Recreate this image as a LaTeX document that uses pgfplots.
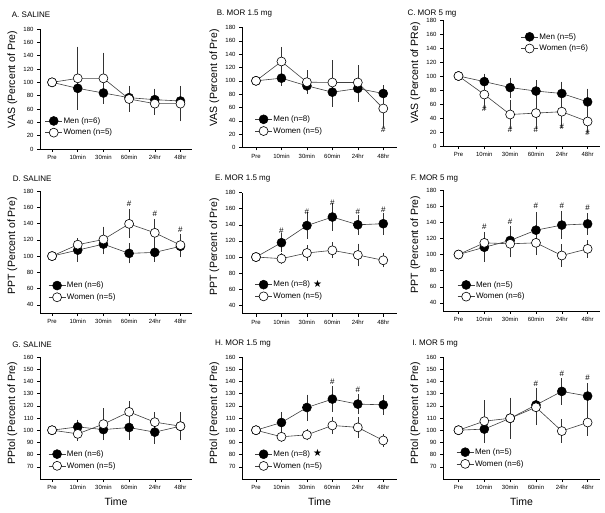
\documentclass[border=0pt]{standalone}
\usepackage{fontspec}
\setmainfont{Liberation Sans}
\newfontfamily\symfont{DejaVu Sans}
\usepackage{pgfplots}
\pgfplotsset{compat=1.18}

\pgfplotsset{
  panel/.style={
    scale only axis, axis lines*=left, axis line style={-, line width=0.6pt, black},
    xtick={0,...,5}, xticklabels={Pre,10min,30min,60min,24hr,48hr},
    tick align=outside, major tick length=3pt, tick style={black, line width=0.5pt},
    ticklabel style={font=\fontsize{6}{7}\selectfont},
    /pgf/number format/assume math mode=true,
    label style={font=\fontsize{10.5}{12}\selectfont},
    clip=false,
    legend style={draw=none, fill=none, font=\fontsize{8}{9}\selectfont, inner sep=0pt,
      nodes={inner sep=1pt, text height=6pt, text depth=1.5pt}, row sep=2.2pt, anchor=west},
    legend cell align=left,
  },
  col1/.style={width=152pt, xmin=-0.47, xmax=5.45},
  col2/.style={width=155pt, xmin=-0.55, xmax=5.54},
  col3/.style={width=157pt, xmin=-0.6, xmax=5.48},
  row1/.style={height=120pt, ymin=0, ymax=180, ytick={0,20,...,180},
    ylabel style={at={(axis description cs:0,0.58)}, rotate=0, anchor=center, yshift=27.5pt}},
  row2/.style={height=122pt, ymin=30, ymax=180, ytick={40,60,...,180},
    ylabel style={at={(axis description cs:0,0.55)}, rotate=0, anchor=center, yshift=27.5pt}},
  row3/.style={height=122pt, ymin=60, ymax=160, ytick={70,80,...,160},
    ylabel style={at={(axis description cs:0,0.54)}, rotate=0, anchor=center, yshift=27.5pt},
    xlabel={Time}, xlabel style={at={(axis description cs:0.5,0)}, yshift=-23pt, anchor=center}},
  men/.style={black!75, line width=0.6pt, mark=*, mark size=4.5pt,
    mark options={fill=black, draw=black, line width=0.5pt},
    error bars/.cd, y dir=both, y explicit,
    error bar style={black!80, line width=0.6pt},
    error mark options={black!80, mark size=3pt, line width=0.6pt}},
  women/.style={black!75, line width=0.6pt, mark=*, mark size=4.5pt,
    mark options={fill=white, draw=black, line width=0.6pt},
    error bars/.cd, y dir=both, y explicit,
    error bar style={black!80, line width=0.6pt},
    error mark options={black!80, mark size=3pt, line width=0.6pt}},
}
\newcommand{\hashnode}[2]{\node[font=\fontsize{8}{9}\selectfont, inner sep=0pt] at (axis cs:#1,#2) {\#};}
\newcommand{\ttl}[3]{\node[anchor=west, inner sep=0pt, font=\fontsize{8}{9}\selectfont] at (#1pt,#2pt) {#3};}

\begin{document}
\begin{tikzpicture}
\useasboundingbox (0pt,0pt) rectangle (605pt,512pt);

% ---------------- Row 1 ----------------
\begin{axis}[panel, col1, row1, at={(40pt,363pt)}, anchor=south west,
  ylabel={VAS (Percent of Pre)},
  legend style={at={(axis description cs:0.031,0.185)}}]
\addplot[men] coordinates {(0,100) +- (0,0) (1,91) +- (0,28) (2,84) +- (0,12) (3,77) +- (0,13) (4,74) +- (0,12) (5,72) +- (0,17)};
\addplot[women] coordinates {(0,100) +- (0,0) (1,106) +- (0,43) (2,106) +- (0,34) (3,75) +- (0,15) (4,68) +- (0,12) (5,68) +- (0,22)};
\legend{Men (n=6), Women (n=5)}
\end{axis}

\begin{axis}[panel, col2, row1, at={(242pt,364.5pt)}, anchor=south west,
  ylabel={VAS (Percent of Pre)},
  legend style={at={(axis description cs:0.081,0.186)}}]
\addplot[men] coordinates {(0,100) +- (0,0) (1,104) +- (0,7) (2,92.5) +- (0,7.5) (3,83) +- (0,17.5) (4,88.5) +- (0,15.5) (5,81) +- (0,8)};
\addplot[women] coordinates {(0,100) +- (0,0) (1,129) +- (0,17.5) (2,98) +- (0,13) (3,97.5) +- (0,29) (4,97.5) +- (0,21.5) (5,58.5) +- (0,24.5)};
\legend{Men (n=8), Women (n=5)}
\hashnode{5}{26}
\end{axis}

\begin{axis}[panel, col3, row1, height=126pt, at={(443pt,366pt)}, anchor=south west,
  ylabel={VAS (Percent of PRe)},
  legend style={at={(axis description cs:0.494,0.82)}}]
\addplot[men] coordinates {(0,100) +- (0,0) (1,92) +- (0,7) (2,83.5) +- (0,10) (3,78.5) +- (0,11) (4,75) +- (0,12.5) (5,63) +- (0,14.5)};
\addplot[women] coordinates {(0,100) +- (0,0) (1,73.5) +- (0,16) (2,45) +- (0,16) (3,47) +- (0,18) (4,49) +- (0,19) (5,35) +- (0,12)};
\legend{Men (n=5), Women (n=6)}
\hashnode{1}{53}\hashnode{2}{22.5}\hashnode{3}{22.5}\hashnode{4}{27}\hashnode{5}{19.5}
\end{axis}

% ---------------- Row 2 ----------------
\begin{axis}[panel, col1, row2, at={(40pt,199pt)}, anchor=south west,
  ylabel={PPT (Percent of Pre)},
  legend style={at={(axis description cs:0.053,0.177)}}]
\addplot[men] coordinates {(0,100) +- (0,0) (1,107.3) +- (0,10.6) (2,114.7) +- (0,9) (3,103.3) +- (0,8.5) (4,104.5) +- (0,8) (5,112) +- (0,10)};
\addplot[women] coordinates {(0,100) +- (0,0) (1,114) +- (0,4) (2,120.4) +- (0,12) (3,139.6) +- (0,14) (4,128.6) +- (0,13) (5,113.5) +- (0,10)};
\legend{Men (n=6), Women (n=5)}
\hashnode{3}{164.5}\hashnode{4}{152}\hashnode{5}{132.6}
\end{axis}

\begin{axis}[panel, col2, row2, height=121pt, at={(242pt,198.5pt)}, anchor=south west,
  ylabel={PPT (Percent of Pre)},
  legend style={at={(axis description cs:0.081,0.19)}}]
\addplot[men] coordinates {(0,100) +- (0,0) (1,117.8) +- (0,8) (2,139) +- (0,12.5) (3,149.6) +- (0,13.5) (4,140) +- (0,8.5) (5,141.3) +- (0,10)};
\addplot[women] coordinates {(0,100) +- (0,0) (1,98) +- (0,3) (2,105) +- (0,6) (3,108.3) +- (0,6) (4,102.5) +- (0,10.5) (5,96) +- (0,5)};
\legend{Men (n=8), Women (n=5)}
\hashnode{1}{133}\hashnode{2}{156.6}\hashnode{3}{167}\hashnode{4}{156}\hashnode{5}{159}
\end{axis}

\begin{axis}[panel, col3, row2, height=121pt, at={(443pt,201pt)}, anchor=south west,
  ylabel={PPT (Percent of Pre)},
  legend style={at={(axis description cs:0.09,0.167)}}]
\addplot[men] coordinates {(0,100) +- (0,0) (1,109) +- (0,14.5) (2,117.4) +- (0,14) (3,130.2) +- (0,19) (4,136.5) +- (0,14) (5,138) +- (0,9.5)};
\addplot[women] coordinates {(0,100) +- (0,0) (1,114.5) +- (0,10) (2,113.3) +- (0,13) (3,114.5) +- (0,11.5) (4,98.8) +- (0,10) (5,107) +- (0,7)};
\legend{Men (n=5), Women (n=6)}
\hashnode{1}{135}\hashnode{2}{140.6}\hashnode{3}{160.9}\hashnode{4}{160.9}\hashnode{5}{158}
\end{axis}

% ---------------- Row 3 ----------------
\begin{axis}[panel, col1, row3, at={(40pt,33pt)}, anchor=south west,
  ylabel={PPtol (Percent of Pre)},
  legend style={at={(axis description cs:0.053,0.156)}}]
\addplot[men] coordinates {(0,100) +- (0,0) (1,102.7) +- (0,3.5) (2,100.5) +- (0,4.5) (3,102.2) +- (0,7.7) (4,98.4) +- (0,7) (5,103.3) +- (0,9)};
\addplot[women] coordinates {(0,100) +- (0,0) (1,97) +- (0,3.3) (2,105) +- (0,10.6) (3,115) +- (0,6.4) (4,106.6) +- (0,5.7) (5,103.3) +- (0,7)};
\legend{Men (n=6), Women (n=5)}
\end{axis}

\begin{axis}[panel, col2, row3, at={(242pt,33pt)}, anchor=south west,
  ylabel={PPtol (Percent of Pre)},
  legend style={at={(axis description cs:0.081,0.155)}}]
\addplot[men] coordinates {(0,100) +- (0,0) (1,106.3) +- (0,6.3) (2,118.6) +- (0,8.2) (3,125.5) +- (0,8.1) (4,121.4) +- (0,5.8) (5,120.8) +- (0,5.5)};
\addplot[women] coordinates {(0,100) +- (0,0) (1,94.6) +- (0,2) (2,96.2) +- (0,2) (3,103.9) +- (0,4.7) (4,102.3) +- (0,6) (5,91.6) +- (0,3)};
\legend{Men (n=8), Women (n=5)}
\hashnode{3}{140}\hashnode{4}{133.5}
\end{axis}

\begin{axis}[panel, col3, row3, at={(443pt,33pt)}, anchor=south west,
  ylabel={PPtol (Percent of Pre)},
  legend style={at={(axis description cs:0.084,0.172)}}]
\addplot[men] coordinates {(0,100) +- (0,0) (1,100.9) +- (0,8.7) (2,109.8) +- (0,14) (3,120.7) +- (0,11.6) (4,131.8) +- (0,8.3) (5,128) +- (0,8)};
\addplot[women] coordinates {(0,100) +- (0,0) (1,107.4) +- (0,14.6) (2,109.8) +- (0,14.4) (3,118.8) +- (0,12.2) (4,99.3) +- (0,7.2) (5,106.3) +- (0,8.4)};
\legend{Men (n=5), Women (n=6)}
\hashnode{3}{137.8}\hashnode{4}{146.4}\hashnode{5}{142.7}
\end{axis}

% titles
\ttl{11.7}{497}{A. SALINE}
\ttl{216.7}{498}{B. MOR 1.5 mg}
\ttl{407.3}{498}{C. MOR 5 mg}
\ttl{12.7}{333.7}{D. SALINE}
\ttl{215}{333}{E. MOR 1.5 mg}
\ttl{410.7}{333.7}{F. MOR 5 mg}
\ttl{12.3}{167}{G. SALINE}
\ttl{215}{168}{H. MOR 1.5 mg}
\ttl{412.3}{168.7}{I. MOR 5 mg}
% significance stars in legends
\node[font=\symfont\fontsize{10}{10}\selectfont, inner sep=0pt] at (317.7pt,227.7pt) {★};
\node[font=\symfont\fontsize{10}{10}\selectfont, inner sep=0pt] at (317.7pt,58.7pt) {★};
\end{tikzpicture}
\end{document}
